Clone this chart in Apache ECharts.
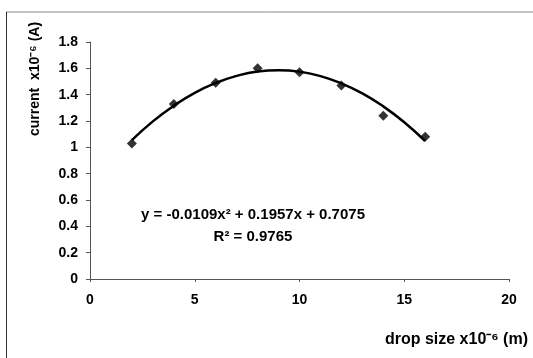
<!DOCTYPE html>
<html>
<head>
<meta charset="utf-8">
<script src="https://cdn.jsdelivr.net/npm/echarts@6/dist/echarts.min.js"></script>
<style>
html,body{margin:0;padding:0;background:#fff;}
#chart{width:533px;height:358px;}
</style>
</head>
<body>
<div id="chart"></div>
<script>
// measured points
var dropSize = [2, 4, 6, 8, 10, 12, 14, 16];
var current = [1.03, 1.33, 1.49, 1.60, 1.57, 1.47, 1.24, 1.08];

// trendline values
var trendX = [2, 3, 4, 5, 6, 7, 8, 9, 10, 11, 12, 13, 14, 15, 16];
var trendY = [1.055, 1.197, 1.316, 1.414, 1.489, 1.543, 1.576, 1.586, 1.575, 1.541, 1.486, 1.410, 1.311, 1.191, 1.048];

var eqText = 'y = -0.0109x² + 0.1957x + 0.7075';
var r2Text = 'R² = 0.9765';

var pts = [];
for (var i = 0; i < dropSize.length; i++) pts.push([dropSize[i], current[i]]);
var trend = [];
for (var j = 0; j < trendX.length; j++) trend.push([trendX[j], trendY[j]]);

var chart = echarts.init(document.getElementById('chart'));
var font = 'Liberation Sans, Arial, sans-serif';
var option = {
	animation: false,
	backgroundColor: '#fff',
	grid: { left: 90, right: 24, top: 42, bottom: 79 },
	xAxis: {
		type: 'value', min: 0, max: 20, interval: 5,
		axisLine: { lineStyle: { color: '#555', width: 1 } },
		axisTick: { show: true, length: 3, lineStyle: { color: '#555' } },
		splitLine: { show: false },
		axisLabel: { color: '#000', fontSize: 14, fontWeight: 'bold', fontFamily: font, margin: 14 }
	},
	yAxis: {
		type: 'value', min: 0, max: 1.8, interval: 0.2,
		axisLine: { show: true, lineStyle: { color: '#555', width: 1 } },
		axisTick: { show: true, length: 4, lineStyle: { color: '#555' } },
		splitLine: { show: false },
		axisLabel: { color: '#000', fontSize: 14, fontWeight: 'bold', fontFamily: font, margin: 12 }
	},
	series: [
		{
			type: 'line', data: trend, smooth: true, showSymbol: false,
			lineStyle: { color: '#000', width: 2.5 }, z: 2
		},
		{
			type: 'scatter', data: pts, symbol: 'diamond', symbolSize: 10,
			itemStyle: { color: '#000' }, z: 3
		}
	],
	graphic: [
		{ type: 'line', shape: { x1: 6, y1: 12, x2: 533, y2: 12 }, style: { stroke: '#888', lineWidth: 1 } },
		{ type: 'line', shape: { x1: 6.5, y1: 12, x2: 6.5, y2: 358 }, style: { stroke: '#333', lineWidth: 1 } },
		{ type: 'text', x: 253, y: 215,
			style: { text: eqText, fill: '#000', font: 'bold 15px ' + font, align: 'center', verticalAlign: 'middle' } },
		{ type: 'text', x: 253, y: 237,
			style: { text: r2Text, fill: '#000', font: 'bold 15px ' + font, align: 'center', verticalAlign: 'middle' } },
		{ type: 'text', x: 35, y: 79, rotation: Math.PI / 2,
			style: { text: 'current  x10⁻⁶ (A)', fill: '#000', font: 'bold 14px ' + font, align: 'center', verticalAlign: 'middle' } },
		{ type: 'text', x: 528, y: 340,
			style: { text: 'drop size x10⁻⁶ (m)', fill: '#000', font: 'bold 16px ' + font, align: 'right', verticalAlign: 'middle' } }
	]
};
chart.setOption(option);
</script>
</body>
</html>
